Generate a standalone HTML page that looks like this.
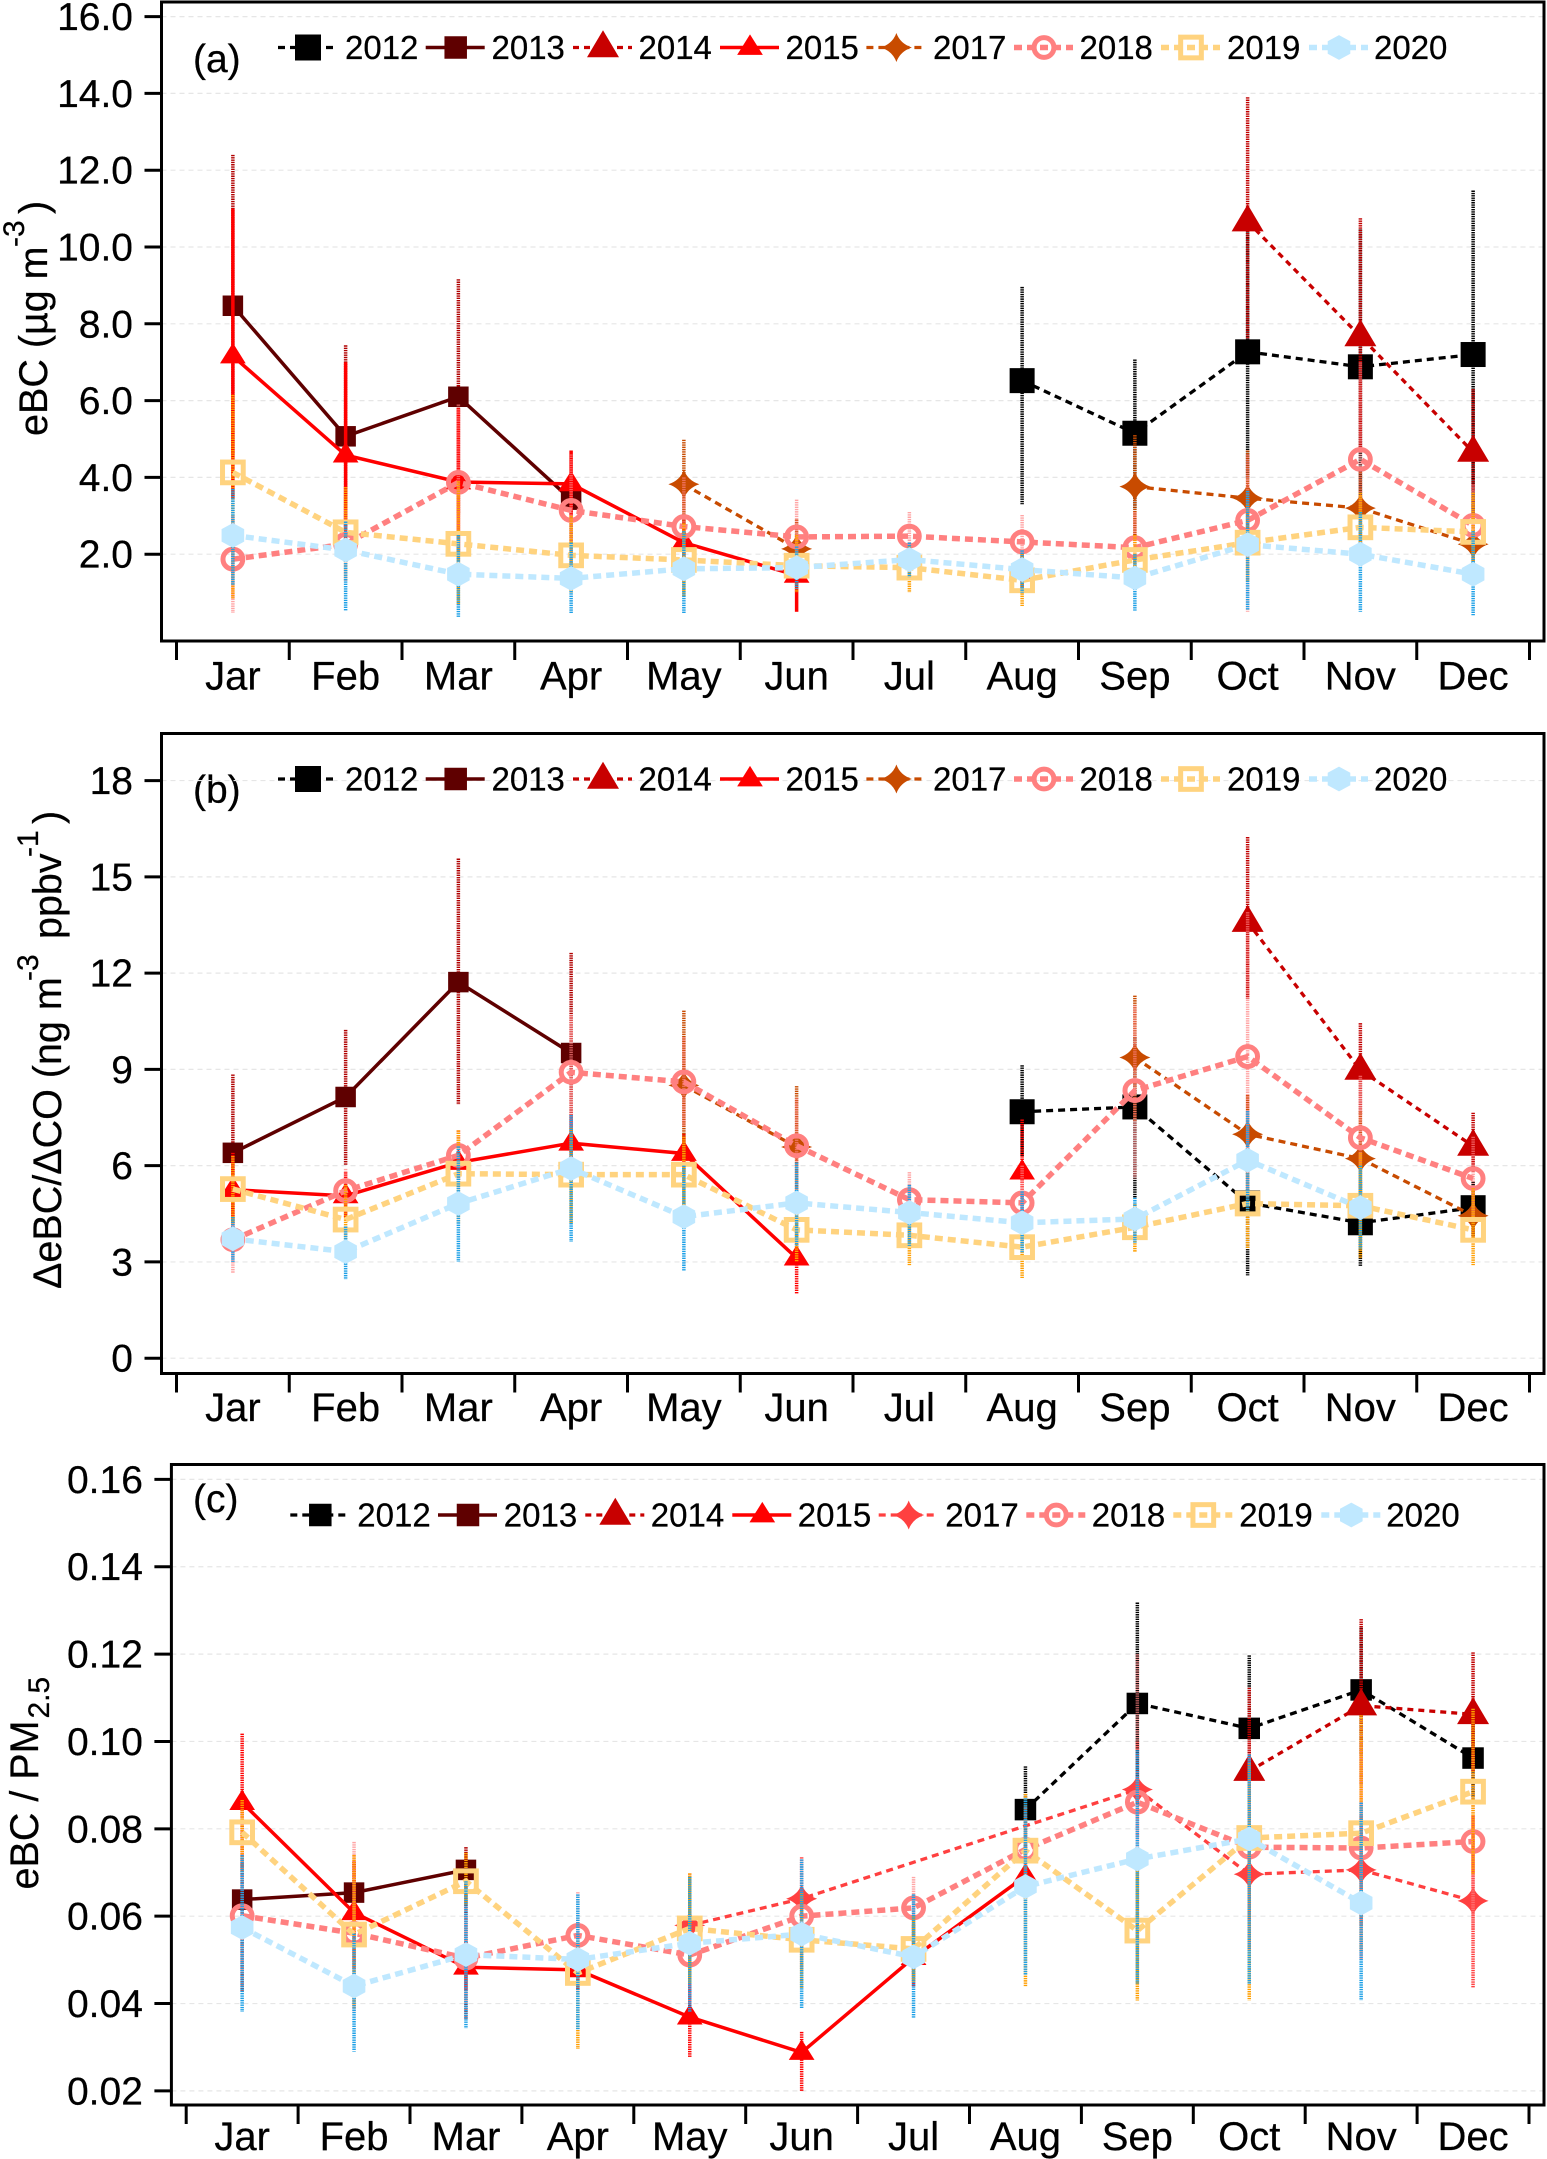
<!DOCTYPE html>
<html lang="en">
<head>
<meta charset="utf-8">
<title>Monthly eBC, eBC/CO and eBC/PM2.5 by year</title>
<style>
html,body{margin:0;padding:0;background:#fff;}
svg{display:block;}
text{font-family:"Liberation Sans",Arial,sans-serif;fill:#000;stroke:#000;stroke-width:0.25px;}
.big{font-size:39.5px;}
.sup{font-size:30px;}
.lbl{font-size:39px;}
</style>
</head>
<body>
<svg id="fig" width="1547" height="2159" viewBox="0 0 1547 2159" xmlns="http://www.w3.org/2000/svg">
  <rect x="0" y="0" width="1547" height="2159" fill="#fff"/>

  <g transform="translate(47,436) rotate(-90)">
    <text class="big" x="0" y="0">eBC (µg m</text>
    <text class="sup" x="189" y="-23">-3</text>
    <text class="big" x="222" y="0">)</text>
  </g>
  <g transform="translate(61,1289) rotate(-90)">
    <text class="big" x="0" y="0">ΔeBC/ΔCO (ng m</text>
    <text class="sup" x="308" y="-23">-3</text>
    <text class="big" x="350" y="0">ppbv</text>
    <text class="sup" x="432" y="-23">-1</text>
    <text class="big" x="465" y="0">)</text>
  </g>
  <g transform="translate(38,1889.5) rotate(-90)">
    <text class="big" x="0" y="0">eBC / PM</text>
    <text class="sup" x="171" y="11">2.5</text>
  </g>

  <text class="lbl" x="193" y="72">(a)</text>
  <text class="lbl" x="193" y="803">(b)</text>
  <text class="lbl" x="193" y="1512">(c)</text>
</svg>

<script>
/* ---------- shared categories ---------- */
const months = ["Jar","Feb","Mar","Apr","May","Jun","Jul","Aug","Sep","Oct","Nov","Dec"];
const years = ["2012","2013","2014","2015","2017","2018","2019","2020"];
const _ = null;

/* ---------- panel (a): eBC ---------- */
const aTickValues = [2,4,6,8,10,12,14,16];
const aTickLabels = ["2.0","4.0","6.0","8.0","10.0","12.0","14.0","16.0"];
const a2012   = [_,_,_,_,_,_,_,6.52,5.15,7.27,6.88,7.2];
const a2012Hi = [_,_,_,_,_,_,_,8.96,7.07,10.5,10.46,11.47];
const a2012Lo = [_,_,_,_,_,_,_,3.3,3.2,4.0,3.3,2.9];
const a2013   = [8.47,5.07,6.1,3.42,_,_,_,_,_,_,_,_];
const a2013Hi = [12.4,7.44,9.16,4.6,_,_,_,_,_,_,_,_];
const a2013Lo = [4.6,2.7,3.04,2.2,_,_,_,_,_,_,_,_];
const a2014   = [_,_,_,_,_,_,_,_,_,10.66,7.67,4.66];
const a2014Hi = [_,_,_,_,_,_,_,_,_,13.9,10.75,6.3];
const a2014Lo = [_,_,_,_,_,_,_,_,_,7.6,4.76,3.2];
const a2015   = [7.16,4.58,3.88,3.83,2.3,1.45,_,1.55,_,_,_,_];
const a2015Hi = [11.0,7.0,5.8,4.7,3.0,2.0,_,2.1,_,_,_,_];
const a2015Lo = [3.45,2.2,2.0,3.0,1.6,0.5,_,1.1,_,_,_,_];
const a2017   = [_,_,_,_,3.82,2.14,_,_,3.76,3.46,3.2,2.26];
const a2017Hi = [_,_,_,_,4.98,2.9,_,_,5.1,4.7,4.2,3.3];
const a2017Lo = [_,_,_,_,2.66,1.4,_,_,2.4,2.2,2.2,1.2];
const a2018   = [1.87,2.26,3.87,3.14,2.72,2.45,2.47,2.32,2.17,2.88,4.47,2.75];
const a2018Hi = [3.0,3.2,5.9,4.6,4.0,3.42,3.1,3.02,3.1,4.6,7.0,3.8];
const a2018Lo = [0.47,1.3,1.8,1.7,1.4,1.5,1.8,1.6,1.2,0.5,1.9,1.6];
const a2019   = [4.13,2.57,2.27,1.97,1.85,1.7,1.65,1.32,1.85,2.3,2.7,2.58];
const a2019Hi = [6.15,3.75,3.9,3.0,2.8,2.5,2.2,2.0,2.5,3.3,3.6,3.6];
const a2019Lo = [0.85,1.3,0.7,1.0,0.9,1.0,1.0,0.65,1.2,1.3,1.8,1.5];
const a2020   = [2.49,2.11,1.48,1.37,1.62,1.65,1.86,1.6,1.38,2.25,2.0,1.48];
const a2020Hi = [3.7,2.85,2.5,2.3,2.6,2.2,2.3,2.1,2.0,3.65,3.1,2.6];
const a2020Lo = [1.2,0.53,0.35,0.47,0.47,1.1,1.4,1.0,0.53,0.55,0.5,0.41];

/* ---------- panel (b): dEBC/dCO ---------- */
const bTickValues = [0,3,6,9,12,15,18];
const bTickLabels = ["0","3","6","9","12","15","18"];
const b2012   = [_,_,_,_,_,_,_,7.68,7.83,4.84,4.22,4.69];
const b2012Hi = [_,_,_,_,_,_,_,9.13,10.0,6.2,5.5,5.5];
const b2012Lo = [_,_,_,_,_,_,_,6.3,5.0,2.58,2.86,3.8];
const b2013   = [6.4,8.14,11.72,9.51,_,_,_,_,_,_,_,_];
const b2013Hi = [8.84,10.23,15.57,12.63,_,_,_,_,_,_,_,_];
const b2013Lo = [4.0,6.0,7.9,6.4,_,_,_,_,_,_,_,_];
const b2014   = [_,_,_,_,_,_,_,_,_,13.59,8.98,6.61];
const b2014Hi = [_,_,_,_,_,_,_,_,_,16.24,10.44,7.65];
const b2014Lo = [_,_,_,_,_,_,_,_,_,11.2,7.6,5.8];
const b2015   = [5.25,5.06,6.1,6.7,6.38,3.12,_,5.8,_,_,_,_];
const b2015Hi = [6.4,5.8,7.1,7.6,7.0,4.0,_,7.44,_,_,_,_];
const b2015Lo = [4.2,4.4,5.3,5.9,5.8,2.0,_,4.3,_,_,_,_];
const b2017   = [_,_,_,_,8.5,6.58,_,_,9.37,6.98,6.22,4.44];
const b2017Hi = [_,_,_,_,10.83,8.48,_,_,11.3,8.2,7.7,5.2];
const b2017Lo = [_,_,_,_,6.2,4.7,_,_,7.4,5.8,4.7,3.7];
const b2018   = [3.69,5.22,6.32,8.91,8.61,6.62,4.94,4.84,8.34,9.4,6.87,5.6];
const b2018Hi = [4.5,5.9,7.1,10.7,10.0,8.1,5.8,6.0,11.0,13.9,8.8,6.9];
const b2018Lo = [2.65,4.5,5.5,7.1,7.2,5.1,4.1,3.7,5.6,5.0,5.0,4.3];
const b2019   = [5.27,4.32,5.75,5.72,5.72,4.0,3.83,3.46,4.08,4.82,4.75,4.0];
const b2019Hi = [6.3,5.4,7.1,7.2,6.9,5.0,4.8,4.4,4.8,6.2,6.4,5.3];
const b2019Lo = [4.2,3.2,4.2,4.2,4.5,3.0,2.9,2.5,3.3,3.4,3.1,2.9];
const b2020   = [3.72,3.32,4.82,5.91,4.41,4.84,4.54,4.22,4.34,6.17,4.69,_];
const b2020Hi = [4.4,4.1,6.6,7.58,6.0,6.1,5.4,5.2,5.0,7.7,6.0,_];
const b2020Lo = [3.0,2.45,3.0,3.62,2.72,3.5,3.5,3.3,3.6,4.6,3.4,_];

/* ---------- panel (c): eBC/PM2.5 ---------- */
const cTickValues = [0.02,0.04,0.06,0.08,0.10,0.12,0.14,0.16];
const cTickLabels = ["0.02","0.04","0.06","0.08","0.10","0.12","0.14","0.16"];
const c2012   = [_,_,_,_,_,_,_,0.0844,0.1087,0.103,0.1118,0.0962];
const c2012Hi = [_,_,_,_,_,_,_,0.0943,0.1318,0.1197,0.126,0.105];
const c2012Lo = [_,_,_,_,_,_,_,0.0745,0.0857,0.0863,0.097,0.087];
const c2013   = [0.0638,0.0654,0.0706,_,_,_,_,_,_,_,_,_];
const c2013Hi = [0.072,0.0725,0.0758,_,_,_,_,_,_,_,_,_];
const c2013Lo = [0.0425,0.0585,0.0365,_,_,_,_,_,_,_,_,_];
const c2014   = [_,_,_,_,_,_,_,_,_,0.0932,0.1082,0.1062];
const c2014Hi = [_,_,_,_,_,_,_,_,_,0.1123,0.128,0.1204];
const c2014Lo = [_,_,_,_,_,_,_,_,_,0.0757,0.09,0.093];
const c2015   = [0.086,0.0608,0.0483,0.0477,0.0369,0.0288,0.0505,0.0692,_,_,_,_];
const c2015Hi = [0.1018,0.0725,0.054,0.052,0.046,0.0335,0.058,0.076,_,_,_,_];
const c2015Lo = [0.071,0.048,0.043,0.043,0.0276,0.02,0.044,0.064,_,_,_,_];
const c2017   = [_,_,_,_,0.0579,0.064,_,_,0.089,0.0696,0.0706,0.0635];
const c2017Hi = [_,_,_,_,0.0698,0.0735,_,_,0.1,0.08,0.083,0.083];
const c2017Lo = [_,_,_,_,0.046,0.054,_,_,0.078,0.059,0.058,0.0435];
const c2018   = [0.0601,0.0561,0.0504,0.0556,0.0511,0.06,0.0619,0.0753,0.0861,0.0758,0.0756,0.0771];
const c2018Hi = [0.073,0.077,0.06,0.0655,0.062,0.072,0.069,0.085,0.12,0.1,0.1,0.097];
const c2018Lo = [0.047,0.038,0.04,0.0455,0.04,0.048,0.054,0.065,0.052,0.052,0.05,0.057];
const c2019   = [0.0792,0.0558,0.068,0.047,0.0572,0.0546,0.0525,0.075,0.0567,0.0779,0.079,0.0885];
const c2019Hi = [0.0866,0.074,0.0745,0.055,0.0698,0.0655,0.06,0.088,0.072,0.095,0.106,0.1075];
const c2019Lo = [0.07,0.039,0.0625,0.0296,0.0445,0.0435,0.045,0.0438,0.0407,0.0407,0.052,0.0695];
const c2020   = [0.0574,0.044,0.0512,0.0501,0.0538,0.0559,0.0507,0.0668,0.0731,0.0777,0.063,_];
const c2020Hi = [0.074,0.056,0.068,0.065,0.069,0.073,0.065,0.087,0.098,0.097,0.086,_];
const c2020Lo = [0.0381,0.029,0.0343,0.034,0.038,0.0388,0.0367,0.0465,0.0446,0.0445,0.0407,_];

const seriesA = [[a2012,a2012Hi,a2012Lo],[a2013,a2013Hi,a2013Lo],[a2014,a2014Hi,a2014Lo],[a2015,a2015Hi,a2015Lo],[a2017,a2017Hi,a2017Lo],[a2018,a2018Hi,a2018Lo],[a2019,a2019Hi,a2019Lo],[a2020,a2020Hi,a2020Lo]];
const seriesB = [[b2012,b2012Hi,b2012Lo],[b2013,b2013Hi,b2013Lo],[b2014,b2014Hi,b2014Lo],[b2015,b2015Hi,b2015Lo],[b2017,b2017Hi,b2017Lo],[b2018,b2018Hi,b2018Lo],[b2019,b2019Hi,b2019Lo],[b2020,b2020Hi,b2020Lo]];
const seriesC = [[c2012,c2012Hi,c2012Lo],[c2013,c2013Hi,c2013Lo],[c2014,c2014Hi,c2014Lo],[c2015,c2015Hi,c2015Lo],[c2017,c2017Hi,c2017Lo],[c2018,c2018Hi,c2018Lo],[c2019,c2019Hi,c2019Lo],[c2020,c2020Hi,c2020Lo]];

/* ---------- drawing ---------- */
const NS = "http://www.w3.org/2000/svg";
const svg = document.getElementById("fig");

function add(parent, tag, attrs) {
  const el = document.createElementNS(NS, tag);
  for (const k in attrs) el.setAttribute(k, attrs[k]);
  parent.appendChild(el);
  return el;
}

function lineStyle(year, panelId) {
  if (year === "2012") return {c:"#000000", w:3.3, d:"7 5", e:"#000000"};
  if (year === "2013") return {c:"#5f0000", w:3.5, d:"", e:"#b00000"};
  if (year === "2014") return {c:"#c80000", w:3.3, d:"6 5", e:"#c00000"};
  if (year === "2015") return {c:"#ff0000", w:3.5, d:"", e:"#ff0000"};
  if (year === "2017") {
    const col = panelId === "c" ? "#ff4040" : "#c84b00";
    return {c:col, w:3.3, d:"7 5", e:col};
  }
  if (year === "2018") return {c:"#ff8080", w:5.5, d:"8 5", e:"#ff8080"};
  if (year === "2019") return {c:"#ffd37f", w:5.5, d:"8 5", e:"#ff9f00"};
  return {c:"#bfe8ff", w:5.5, d:"8 5", e:"#1ea0e6"};
}

function drawMarker(parent, year, x, y, panelId, isLegend) {
  const st = lineStyle(year, panelId);
  if (year === "2012" || year === "2013") {
    let s = year === "2012" ? 25 : 20.5;
    if (year === "2012" && panelId === "c") s = 21.5;
    if (isLegend) s = year === "2012" ? (panelId === "c" ? 22.5 : 26) : 22.5;
    return add(parent, "rect", {x:x-s/2, y:y-s/2, width:s, height:s, fill:st.c});
  }
  if (year === "2014" || year === "2015") {
    const w = year === "2014" ? 32 : 25.7;
    const h = year === "2014" ? 27 : 20.5;
    const t = y - h*0.64, b = y + h*0.36;
    return add(parent, "polygon", {points:`${x},${t} ${x+w/2},${b} ${x-w/2},${b}`, fill:st.c});
  }
  if (year === "2017") {
    const w = 15.5, h = 14.5, s = 3.8;
    return add(parent, "path", {d:`M${x},${y-h} Q${x+s},${y-s} ${x+w},${y} Q${x+s},${y+s} ${x},${y+h} Q${x-s},${y+s} ${x-w},${y} Q${x-s},${y-s} ${x},${y-h}Z`, fill:st.c});
  }
  if (year === "2018") {
    return add(parent, "circle", {cx:x, cy:y, r:9.9, fill:"none", stroke:st.c, "stroke-width":5});
  }
  if (year === "2019") {
    const s = 20.7;
    return add(parent, "rect", {x:x-s/2, y:y-s/2, width:s, height:s, fill:"none", stroke:st.c, "stroke-width":5});
  }
  const hw = 11.3, hh = 12.4;
  return add(parent, "polygon", {points:`${x},${y-hh} ${x+hw},${y-hh/2} ${x+hw},${y+hh/2} ${x},${y+hh} ${x-hw},${y+hh/2} ${x-hw},${y-hh/2}`, fill:st.c});
}

function drawPanel(cfg) {
  const g = add(svg, "g", {});
  
  

  /* axis functions */
  const xScale = i => cfg.xStart + (i + 0.5) * cfg.xStep;
  const yScale = v => cfg.yRef - (v - cfg.vRef) * cfg.yPerUnit;

  /* gridlines */
  cfg.tickValues.forEach((v, i) => {
    const gl = add(g, "line", {x1:cfg.left, x2:cfg.right, y1:yScale(v), y2:yScale(v), stroke:"#e6e6e6", "stroke-width":1.2, "stroke-dasharray":"5 4"});
    
    
  });

  /* y ticks + labels */
  cfg.tickValues.forEach((v, i) => {
    const tk = add(g, "line", {x1:cfg.left-17, x2:cfg.left, y1:yScale(v), y2:yScale(v), stroke:"#000", "stroke-width":3});
    
    
    const tl = add(g, "text", {x:cfg.left-28.5, y:yScale(v)+13.5, "text-anchor":"end", "font-size":39});
    tl.textContent = cfg.tickLabels[i];
    
    
  });

  /* x ticks + labels */
  for (let i = 0; i <= months.length; i++) {
    const px = cfg.xStart + i * cfg.xStep;
    const tk = add(g, "line", {x1:px, x2:px, y1:cfg.bottom, y2:cfg.bottom+19, stroke:"#000", "stroke-width":3});
    
    
  }
  months.forEach((m, i) => {
    const tl = add(g, "text", {x:xScale(i), y:cfg.bottom+cfg.xLabelDy, "text-anchor":"middle", "font-size":40});
    tl.textContent = m;
    
    
  });

  /* series */
  years.forEach((yr, si) => {
    const st = lineStyle(yr, cfg.id);
    const vals = cfg.series[si][0], hi = cfg.series[si][1], lo = cfg.series[si][2];
    const sg = add(g, "g", {});
    
    

    /* error bars */
    vals.forEach((v, i) => {
      if (hi[i] === null || lo[i] === null) return;
      const attrs = {x1:xScale(i), x2:xScale(i), y1:yScale(hi[i]), y2:yScale(lo[i]), stroke:st.e, "stroke-width":3.5};
      if (!(yr === "2015" && cfg.id === "a")) attrs["stroke-dasharray"] = "1.4 0.9";
      if (yr === "2018") attrs["opacity"] = "0.7";
      const eb = add(sg, "line", attrs);
      
      
    });

    /* lines: a missing value breaks the line, unless the panel bridges that series */
    const bridge = cfg.bridgeYear === yr;
    let seg = [];
    const segs = [];
    vals.forEach((v, i) => {
      if (v === null) {
        if (!bridge && seg.length) { segs.push(seg); seg = []; }
      } else {
        seg.push(xScale(i) + "," + yScale(v));
      }
    });
    if (seg.length) segs.push(seg);
    segs.forEach((s, k) => {
      if (s.length < 2) return;
      const attrs = {points:s.join(" "), fill:"none", stroke:st.c, "stroke-width":st.w, "stroke-linejoin":"miter"};
      if (st.d) attrs["stroke-dasharray"] = st.d;
      const pl = add(sg, "polyline", attrs);
      
      
    });

    /* markers */
    vals.forEach((v, i) => {
      if (v === null) return;
      const mk = drawMarker(sg, yr, xScale(i), yScale(v), cfg.id, false);
      
      
    });
  });

  /* frame */
  const fr = add(g, "rect", {x:cfg.left, y:cfg.top, width:cfg.right-cfg.left, height:cfg.bottom-cfg.top, fill:"none", stroke:"#000", "stroke-width":3});
  
  

  /* legend */
  const lg = add(g, "g", {});
  
  
  const legendMarkerX = [308,455.7,603,750,896.4,1044,1191,1339];
  const legendTextX = [345,491.5,638.5,785.5,933,1079.5,1227,1374];
  years.forEach((yr, i) => {
    const st = lineStyle(yr, cfg.id);
    const mx = legendMarkerX[i] + cfg.legendDx;
    const ly = cfg.legendY;
    const entry = add(lg, "g", {});
    
    
    const attrs = {x1:mx-30, x2:mx+29, y1:ly, y2:ly, stroke:st.c, "stroke-width":st.w};
    if (st.d) attrs["stroke-dasharray"] = st.d;
    add(entry, "line", attrs);
    drawMarker(entry, yr, mx, ly, cfg.id, true);
    const tx = add(entry, "text", {x:legendTextX[i] + cfg.legendDx, y:ly+11.5, "font-size":33});
    tx.textContent = yr;
  });
}

drawPanel({id:"a", left:161.5, right:1544, top:2, bottom:641,
  xStart:176.5, xStep:112.75, yRef:554.2, vRef:2, yPerUnit:38.4,
  tickValues:aTickValues, tickLabels:aTickLabels, series:seriesA,
  legendY:47.5, legendDx:0, bridgeYear:"", xLabelDy:48.5});
drawPanel({id:"b", left:161.5, right:1544, top:733.5, bottom:1373.5,
  xStart:176.5, xStep:112.75, yRef:1358.2, vRef:0, yPerUnit:32.09,
  tickValues:bTickValues, tickLabels:bTickLabels, series:seriesB,
  legendY:779, legendDx:0, bridgeYear:"", xLabelDy:47.5});
drawPanel({id:"c", left:171.4, right:1544, top:1464.5, bottom:2105,
  xStart:186.2, xStep:111.9, yRef:2090.9, vRef:0.02, yPerUnit:4368,
  tickValues:cTickValues, tickLabels:cTickLabels, series:seriesC,
  legendY:1515, legendDx:12.3, bridgeYear:"2017", xLabelDy:45});
</script>
</body>
</html>
